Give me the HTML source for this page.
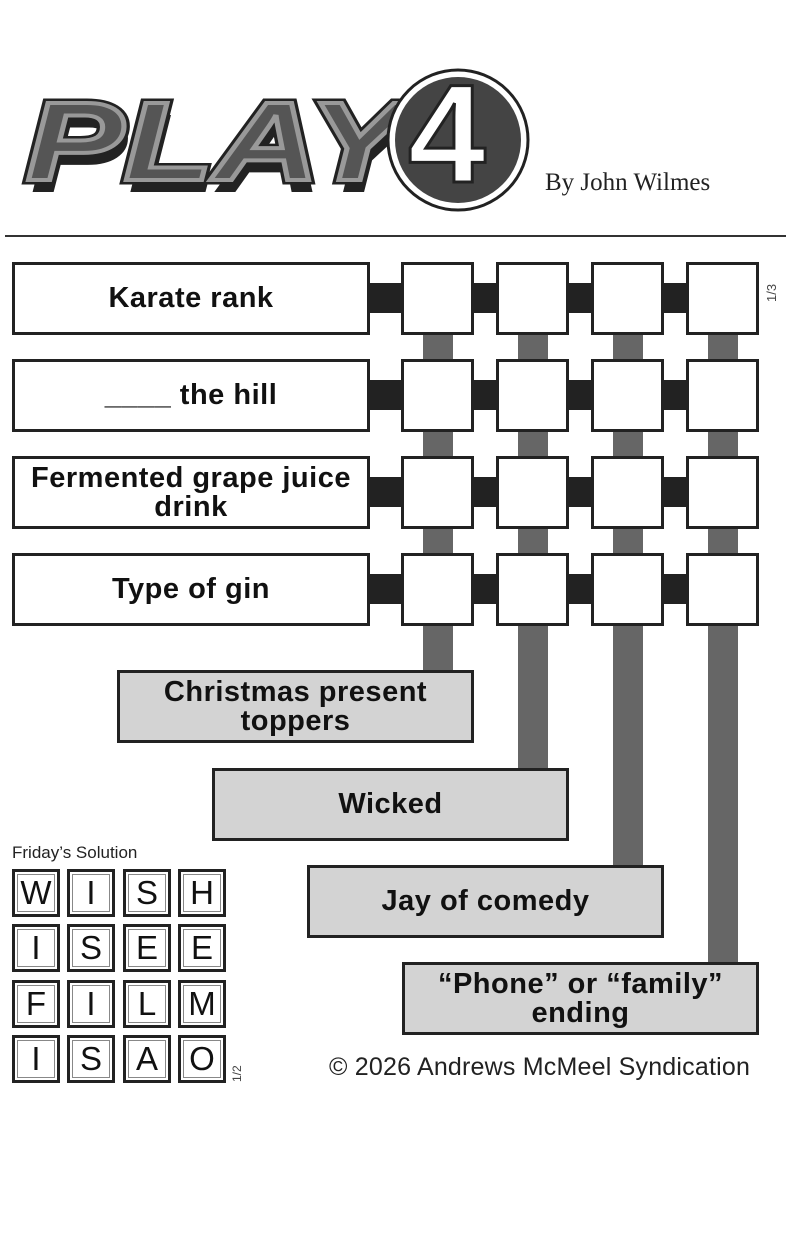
<!DOCTYPE html>
<html><head><style>
body{margin:0;width:786px;height:1255px;background:#fff;position:relative;font-family:"Liberation Sans",sans-serif;overflow:hidden}
.a{position:absolute;box-sizing:border-box}
.clue{border:3px solid #222;background:#fff;display:flex;align-items:center;justify-content:center;text-align:center;font-weight:bold;font-size:29px;line-height:29px;letter-spacing:0.5px;color:#111}
.g{background:#d3d3d3}
.sq{border:3px solid #222;background:#fff}
.blk{background:#222}
.bar{background:#666}
.s{border:3px solid #222;background:#fff;font-size:33px;display:flex;align-items:center;justify-content:center;color:#111;box-shadow:inset 0 0 0 2px #fff,inset 0 0 0 3px #888}
</style></head><body>
<svg class="a" style="left:0;top:0" width="786" height="240">
<g font-family="Liberation Sans" font-weight="bold" font-style="italic" font-size="112">
<text x="30" y="192" fill="#222" textLength="380" lengthAdjust="spacingAndGlyphs">PLAY</text>
<text x="26" y="180" fill="#555" stroke="#222" stroke-width="9" textLength="380" lengthAdjust="spacingAndGlyphs">PLAY</text>
<text x="26" y="180" fill="#555" stroke="#999" stroke-width="4" textLength="380" lengthAdjust="spacingAndGlyphs">PLAY</text>
</g>
<circle cx="458" cy="140" r="70" fill="#fff" stroke="#222" stroke-width="3"/>
<circle cx="458" cy="140" r="63" fill="#444"/>
<text x="408" y="182" font-family="Liberation Sans" font-weight="bold" font-size="140" fill="#fff" stroke="#222" stroke-width="3">4</text>
<text x="545" y="190" font-family="Liberation Serif" font-size="25" fill="#222">By John Wilmes</text>
<rect x="5" y="235" width="781" height="2" fill="#333"/>
</svg>

<div class="a bar" style="left:423px;top:330px;width:30px;height:342px"></div>
<div class="a bar" style="left:518px;top:330px;width:30px;height:440px"></div>
<div class="a bar" style="left:613px;top:330px;width:30px;height:537px"></div>
<div class="a bar" style="left:708px;top:330px;width:30px;height:634px"></div>

<div class="a blk" style="left:368px;top:283px;width:386px;height:30px"></div>
<div class="a blk" style="left:368px;top:380px;width:386px;height:30px"></div>
<div class="a blk" style="left:368px;top:477px;width:386px;height:30px"></div>
<div class="a blk" style="left:368px;top:574px;width:386px;height:30px"></div>

<div class="a clue" style="left:12px;top:262px;width:358px;height:73px">Karate rank</div>
<div class="a clue" style="left:12px;top:359px;width:358px;height:73px">____ the hill</div>
<div class="a clue" style="left:12px;top:456px;width:358px;height:73px">Fermented grape juice<br>drink</div>
<div class="a clue" style="left:12px;top:553px;width:358px;height:73px">Type of gin</div>

<div class="a sq" style="left:401px;top:262px;width:73px;height:73px"></div>
<div class="a sq" style="left:496px;top:262px;width:73px;height:73px"></div>
<div class="a sq" style="left:591px;top:262px;width:73px;height:73px"></div>
<div class="a sq" style="left:686px;top:262px;width:73px;height:73px"></div>
<div class="a sq" style="left:401px;top:359px;width:73px;height:73px"></div>
<div class="a sq" style="left:496px;top:359px;width:73px;height:73px"></div>
<div class="a sq" style="left:591px;top:359px;width:73px;height:73px"></div>
<div class="a sq" style="left:686px;top:359px;width:73px;height:73px"></div>
<div class="a sq" style="left:401px;top:456px;width:73px;height:73px"></div>
<div class="a sq" style="left:496px;top:456px;width:73px;height:73px"></div>
<div class="a sq" style="left:591px;top:456px;width:73px;height:73px"></div>
<div class="a sq" style="left:686px;top:456px;width:73px;height:73px"></div>
<div class="a sq" style="left:401px;top:553px;width:73px;height:73px"></div>
<div class="a sq" style="left:496px;top:553px;width:73px;height:73px"></div>
<div class="a sq" style="left:591px;top:553px;width:73px;height:73px"></div>
<div class="a sq" style="left:686px;top:553px;width:73px;height:73px"></div>

<div class="a" style="left:764px;top:302px;font-size:13px;color:#444;transform:rotate(-90deg);transform-origin:left top">1/3</div>

<div class="a clue g" style="left:117px;top:670px;width:357px;height:73px">Christmas present<br>toppers</div>
<div class="a clue g" style="left:212px;top:768px;width:357px;height:73px">Wicked</div>
<div class="a clue g" style="left:307px;top:865px;width:357px;height:73px">Jay of comedy</div>
<div class="a clue g" style="left:402px;top:962px;width:357px;height:73px">“Phone” or “family”<br>ending</div>

<div class="a" style="left:12px;top:843px;font-size:17px;color:#222">Friday’s Solution</div>
<div class="a s" style="left:12px;top:869px;width:48px;height:48px">W</div>
<div class="a s" style="left:67px;top:869px;width:48px;height:48px">I</div>
<div class="a s" style="left:123px;top:869px;width:48px;height:48px">S</div>
<div class="a s" style="left:178px;top:869px;width:48px;height:48px">H</div>
<div class="a s" style="left:12px;top:924px;width:48px;height:48px">I</div>
<div class="a s" style="left:67px;top:924px;width:48px;height:48px">S</div>
<div class="a s" style="left:123px;top:924px;width:48px;height:48px">E</div>
<div class="a s" style="left:178px;top:924px;width:48px;height:48px">E</div>
<div class="a s" style="left:12px;top:980px;width:48px;height:48px">F</div>
<div class="a s" style="left:67px;top:980px;width:48px;height:48px">I</div>
<div class="a s" style="left:123px;top:980px;width:48px;height:48px">L</div>
<div class="a s" style="left:178px;top:980px;width:48px;height:48px">M</div>
<div class="a s" style="left:12px;top:1035px;width:48px;height:48px">I</div>
<div class="a s" style="left:67px;top:1035px;width:48px;height:48px">S</div>
<div class="a s" style="left:123px;top:1035px;width:48px;height:48px">A</div>
<div class="a s" style="left:178px;top:1035px;width:48px;height:48px">O</div>
<div class="a" style="left:230px;top:1082px;font-size:12px;color:#444;transform:rotate(-90deg);transform-origin:left top">1/2</div>

<div class="a" style="left:329px;top:1053px;font-size:25px;letter-spacing:0.2px;color:#222">© 2026 Andrews McMeel Syndication</div>
</body></html>
